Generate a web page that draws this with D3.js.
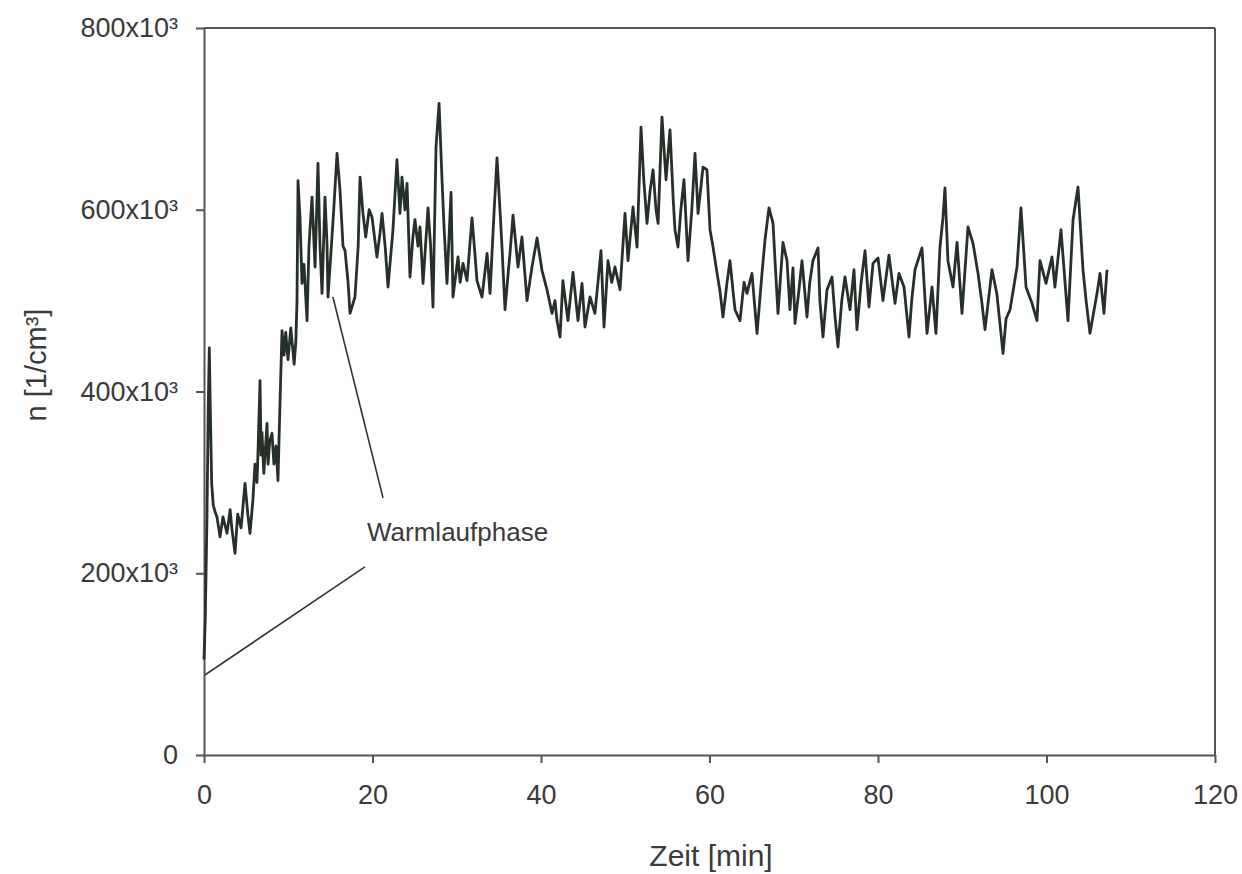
<!DOCTYPE html>
<html>
<head>
<meta charset="utf-8">
<script src="https://cdn.jsdelivr.net/npm/d3@7"></script>
<style>
  body { margin: 0; background: #fff; }
  svg { display: block; }
  .axis text { font-family: "Liberation Sans", Arial, sans-serif; fill: #3a3a3a; }
  .axis path, .axis line { stroke: #555; stroke-width: 2; }
</style>
</head>
<body>
<svg width="1242" height="874"></svg>
<script>
// Zeit [min]
var zeit = [0, 0.15, 0.35, 0.5, 0.63, 0.75, 0.91, 1.1, 1.3, 1.54, 1.9, 2.25, 2.73, 3.1, 3.3, 3.68, 4.0, 4.4, 4.87, 5.2,
  5.46, 5.8, 6.05, 6.29, 6.4, 6.65, 6.77, 6.88, 7.1, 7.48, 7.6, 7.8, 8.07, 8.3, 8.55, 8.78, 9.0, 9.26, 9.5, 9.7,
  9.97, 10.3, 10.7, 10.9, 11.04, 11.16, 11.39, 11.63, 11.87, 12.23, 12.46, 12.82, 13.18, 13.53, 13.77, 14.01, 14.36, 14.6, 14.72, 15.19,
  15.4, 15.79, 16.14, 16.5, 16.74, 17.1, 17.33, 17.92, 18.3, 18.52, 18.87, 19.2, 19.6, 19.94, 20.53, 20.9, 21.13, 21.5, 21.84, 22.43,
  22.9, 23.26, 23.5, 23.85, 24.1, 24.45, 24.8, 25.04, 25.4, 25.64, 26.0, 26.59, 26.9, 27.18, 27.54, 27.9, 28.25, 28.5, 28.84, 29.32,
  29.55, 30.15, 30.4, 30.74, 31.22, 31.81, 32.17, 32.4, 33.0, 33.6, 33.95, 34.42, 34.78, 35.13, 35.37, 35.73, 36.1, 36.32, 36.68, 37.27,
  37.74, 38.0, 38.34, 38.93, 39.53, 40.12, 40.71, 41.31, 41.66, 41.9, 42.26, 42.6, 43.2, 43.8, 44.39, 44.87, 45.22, 45.82, 46.4, 46.76,
  47.12, 47.48, 47.95, 48.4, 48.78, 49.38, 49.97, 50.33, 50.92, 51.4, 51.87, 52.2, 52.58, 52.94, 53.3, 53.65, 53.9, 54.36, 54.84, 55.31,
  55.7, 55.9, 56.26, 56.6, 56.97, 57.45, 57.9, 58.28, 58.64, 59.23, 59.7, 60.06, 60.4, 60.9, 61.25, 61.6, 62.08, 62.43, 62.8, 63.03,
  63.62, 64.1, 64.45, 65.04, 65.64, 66.23, 66.59, 67.06, 67.54, 67.8, 68.13, 68.72, 69.2, 69.55, 69.91, 70.15, 70.6, 70.98, 71.57, 71.9,
  72.28, 72.88, 73.1, 73.47, 73.95, 74.54, 74.9, 75.25, 75.7, 76.08, 76.68, 77.15, 77.5, 78.0, 78.46, 78.93, 79.41, 80.0, 80.59, 81.3,
  82.02, 82.49, 83.09, 83.68, 84.0, 84.39, 85.22, 85.82, 86.41, 86.88, 87.36, 87.7, 87.95, 88.3, 88.9, 89.38, 89.97, 90.68, 91.28, 91.87,
  92.3, 92.7, 93.53, 94.1, 94.84, 95.2, 95.67, 96.5, 96.97, 97.57, 98.28, 98.87, 99.23, 99.94, 100.65, 101.0, 101.72, 102.2, 102.55, 103.15,
  103.74, 104.33, 104.7, 105.16, 106.0, 106.35, 106.82, 107.18];

// n [1/cm³] in Tausend
var anzahl = [105, 150, 260, 380, 448, 380, 299, 275, 268, 262, 240, 262, 244, 270, 250, 222, 265, 250, 299, 265,
  244, 280, 320, 300, 330, 412, 330, 355, 310, 365, 320, 345, 354, 320, 340, 302, 380, 467, 440, 465,
  435, 470, 430, 455, 500, 632, 592, 519, 540, 478, 560, 614, 537, 651, 560, 508, 614, 563, 504, 570,
  600, 662, 622, 560, 555, 520, 486, 504, 560, 636, 596, 570, 600, 592, 548, 575, 596, 560, 515, 578,
  655, 596, 636, 600, 629, 526, 570, 589, 560, 581, 519, 602, 560, 493, 669, 717, 633, 580, 519, 619,
  504, 548, 520, 541, 522, 591, 550, 522, 504, 552, 508, 596, 657, 600, 559, 490, 530, 552, 594, 537,
  570, 540, 500, 537, 569, 533, 512, 486, 500, 478, 460, 522, 478, 531, 478, 519, 471, 504, 486, 520,
  555, 471, 544, 520, 537, 512, 596, 544, 603, 559, 691, 633, 585, 620, 644, 600, 585, 702, 633, 688,
  610, 578, 559, 600, 633, 544, 600, 662, 596, 647, 644, 578, 560, 530, 510, 482, 520, 544, 510, 490,
  478, 520, 508, 530, 464, 530, 567, 602, 585, 540, 486, 564, 544, 490, 536, 475, 510, 544, 482, 520,
  544, 558, 500, 460, 512, 526, 482, 449, 500, 526, 490, 534, 468, 520, 555, 493, 541, 547, 500, 550,
  497, 530, 515, 460, 500, 534, 558, 464, 515, 464, 559, 590, 624, 544, 515, 564, 486, 581, 563, 530,
  500, 468, 534, 508, 442, 480, 490, 537, 602, 515, 497, 478, 544, 519, 548, 515, 578, 520, 478, 589,
  625, 534, 500, 464, 508, 530, 486, 534];

var xTicks = [0, 20, 40, 60, 80, 100, 120];
var yTicks = [0, 200, 400, 600, 800];

// Beschriftung "Warmlaufphase": Text und zwei Zeigerlinien (Datenkoordinaten)
var notiz = { text: "Warmlaufphase", t: 19.35, v: 235 };
var zeiger = [
  [[15.3, 504], [21.25, 283]],
  [[0.1, 88], [19.1, 207]]
];

var svg = d3.select('svg');

var x = d3.scaleLinear().domain([0, 120]).range([204, 1215]);
var y = d3.scaleLinear().domain([0, 800]).range([755, 28]);

var fmtY = d => d === 0 ? "0" : d + "x10³";

svg.append('g')
  .attr('class', 'axis')
  .attr('transform', 'translate(0,755)')
  .call(d3.axisBottom(x).tickValues(xTicks).tickSize(8).tickSizeOuter(0).tickPadding(22))
  .selectAll('text').style('font-size', '27px');

svg.append('g')
  .attr('class', 'axis')
  .attr('transform', 'translate(204,0)')
  .call(d3.axisLeft(y).tickValues(yTicks).tickFormat(fmtY).tickSize(8).tickSizeOuter(0).tickPadding(18))
  .selectAll('text').style('font-size', '27px');

// obere und rechte Rahmenlinie
svg.append('line')
  .attr('x1', x(0)).attr('x2', x(120))
  .attr('y1', y(800)).attr('y2', y(800))
  .attr('stroke', '#555').attr('stroke-width', 2);
svg.append('line')
  .attr('x1', x(120)).attr('x2', x(120))
  .attr('y1', y(800)).attr('y2', y(0))
  .attr('stroke', '#555').attr('stroke-width', 2);

// Messreihe
var punkte = zeit.map((t, i) => [t, anzahl[i]]);
var line = d3.line().x(d => x(d[0])).y(d => y(d[1]));

svg.append('path')
  .datum(punkte)
  .attr('d', line)
  .attr('fill', 'none')
  .attr('stroke', '#263029')
  .attr('stroke-width', 2.8)
  .attr('stroke-linejoin', 'round');

// Zeigerlinien
svg.selectAll('line.zeiger')
  .data(zeiger)
  .enter()
  .append('line')
  .attr('class', 'zeiger')
  .attr('x1', d => x(d[0][0])).attr('y1', d => y(d[0][1]))
  .attr('x2', d => x(d[1][0])).attr('y2', d => y(d[1][1]))
  .attr('stroke', '#333')
  .attr('stroke-width', 1.6);

svg.append('text')
  .attr('x', x(notiz.t))
  .attr('y', y(notiz.v))
  .style('font-family', '"Liberation Sans", Arial, sans-serif')
  .style('font-size', '26px')
  .attr('fill', '#3a3a3a')
  .text(notiz.text);

// Achsentitel
svg.append('text')
  .attr('x', 711)
  .attr('y', 866)
  .attr('text-anchor', 'middle')
  .style('font-family', '"Liberation Sans", Arial, sans-serif')
  .style('font-size', '30px')
  .attr('fill', '#3a3a3a')
  .text('Zeit [min]');

svg.append('text')
  .attr('transform', 'translate(46,365) rotate(-90)')
  .attr('text-anchor', 'middle')
  .style('font-family', '"Liberation Sans", Arial, sans-serif')
  .style('font-size', '29px')
  .attr('fill', '#3a3a3a')
  .text('n [1/cm³]');
</script>
</body>
</html>
